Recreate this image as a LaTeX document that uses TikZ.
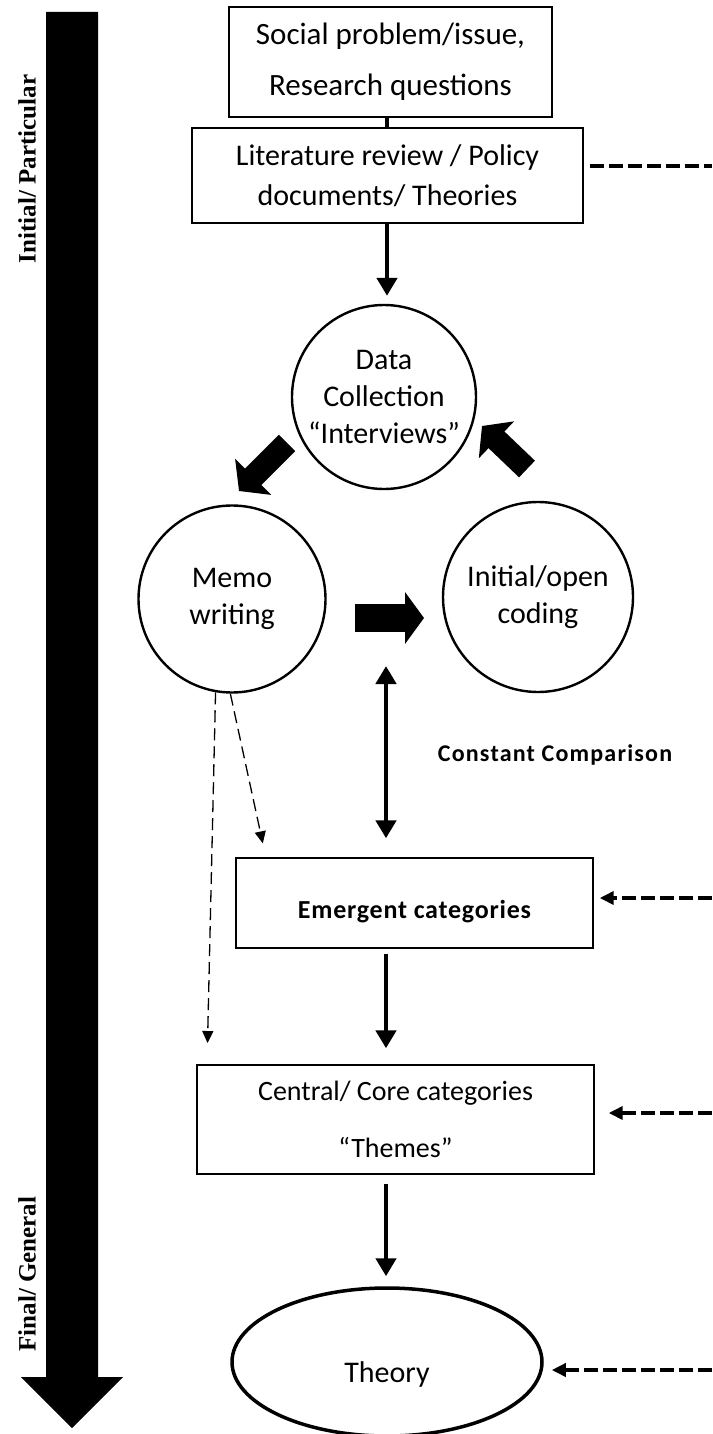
\documentclass[tikz,border=0pt]{standalone}
\usepackage{fontspec}
\setmainfont{Carlito}
\newfontfamily\lblfont{Liberation Serif}
\usetikzlibrary{arrows.meta,shapes.geometric,calc}
\begin{document}
\begin{tikzpicture}[x=1pt,y=-1pt,
  boxnode/.style={draw,line width=1.4pt,rectangle,inner sep=0pt,align=center},
  circnode/.style={draw,line width=2.4pt,circle,inner sep=0pt,align=center,font=\fontsize{30}{37}\selectfont},
  solidarr/.style={line width=4.5pt,-{Triangle[width=20pt,length=18pt]}},
  dblarr/.style={line width=4.5pt,{Triangle[width=20pt,length=18pt]}-{Triangle[width=20pt,length=18pt]}},
  feedline/.style={line width=3.8pt,dash pattern=on 14pt off 5pt},
  feedarr/.style={feedline,-{Triangle[width=13pt,length=14pt]}},
  thindash/.style={line width=1.3pt,dash pattern=on 12pt off 6pt,-{Triangle[width=11pt,length=12pt]}},
  blockarr/.style={line width=23pt,-{Triangle[width=50pt,length=20pt]}},
  sidelabel/.style={rotate=90,inner sep=0pt,font=\lblfont\bfseries\fontsize{25}{25}\selectfont}
]
\useasboundingbox (0,0) rectangle (712,1434);

% big left arrow
\fill (46,12) -- (98,12) -- (98,1377) -- (123,1377) -- (72,1428) -- (21,1377) -- (46,1377) -- cycle;
\node[sidelabel] (lbltop) at (27,169) {Initial/ Particular};
\node[sidelabel] (lblbot) at (27,1274) {Final/ General};

% nodes
\node[boxnode,minimum width=323pt,minimum height=110pt,font=\fontsize{31}{51}\selectfont] (box1) at (390.5,62) {Social problem/issue,\\Research questions};
\node[boxnode,minimum width=391pt,minimum height=95pt,font=\fontsize{30}{40}\selectfont] (box2) at (387.5,175.5) {Literature review / Policy\\documents/ Theories};
\node[circnode,minimum size=184pt] (data) at (384,397) {Data\\Collection\\“Interviews”};
\node[circnode,minimum size=187pt] (memo) at (232,599) {Memo\\writing};
\node[circnode,minimum size=190pt] (coding) at (538,597) {Initial/open\\coding};
\node[boxnode,minimum width=357pt,minimum height=90pt,font=\bfseries\fontsize{26}{30}\selectfont\addfontfeatures{LetterSpace=3}] (emergent) at (414.5,903) {\smash{\raisebox{-15pt}{Emergent categories}}};
\node[boxnode,minimum width=397pt,minimum height=109pt,font=\fontsize{28}{57}\selectfont] (central) at (395.5,1119.5) {Central/ Core categories\\“Themes”};
\node[draw,ellipse,line width=3.5pt,inner sep=0pt,minimum width=310pt,minimum height=148pt,font=\fontsize{30}{36}\selectfont] (theory) at (387,1362) {\smash{\raisebox{-20pt}{Theory}}};
\node[inner sep=0pt,font=\bfseries\fontsize{24}{28}\selectfont\addfontfeatures{LetterSpace=5}] (cc) at (555,755) {Constant Comparison};

% axis coordinates
\coordinate (ax) at (387,0);
\coordinate (ax2) at (386,0);

% connectors
\draw[line width=4.5pt] (box1.south -| ax) -- (box2.north -| ax);
\draw[solidarr,shorten >=8pt] (box2.south -| ax) -- (data.north -| ax);

\coordinate (dl1) at (287,443); \coordinate (dl2) at (239,491);
\draw[blockarr] (dl1) -- (dl2);
\coordinate (ul1) at (527,469); \coordinate (ul2) at (482,426);
\draw[blockarr] (ul1) -- (ul2);
\coordinate (ra1) at (355,618); \coordinate (ra2) at (424,618);
\draw[line width=28pt,-{Triangle[width=51pt,length=19pt]}] (ra1) -- (ra2);

\coordinate (dbtop) at (386,666);
\draw[dblarr,shorten >=19pt] (dbtop) -- (dbtop |- emergent.north);

\draw[thindash,shorten >=15pt] (memo.-91) -- (266,858);
\draw[thindash,shorten >=22pt] (memo.-100) -- (207,1065);

\draw[solidarr,shorten <=5pt,shorten >=16pt] (emergent.south -| ax2) -- (central.north -| ax2);
\draw[solidarr,shorten <=9pt,shorten >=10pt] (central.south -| ax2) -- (theory.north -| ax2);

% feedback dashed lines from the right
\coordinate (fb1) at (712,166);
\coordinate (fb2) at (712,898);
\coordinate (fb3) at (712,1113);
\coordinate (fb4) at (712,1370);
\draw[feedline,shorten <=6pt] (box2.east |- fb1) -- (fb1);
\draw[feedarr,shorten >=6pt] (fb2) -- (emergent.east |- fb2);
\draw[feedarr,shorten >=14pt] (fb3) -- (central.east |- fb3);
\draw[feedarr,shorten >=8pt] (fb4) -- (theory.east |- fb4);
\end{tikzpicture}
\end{document}
